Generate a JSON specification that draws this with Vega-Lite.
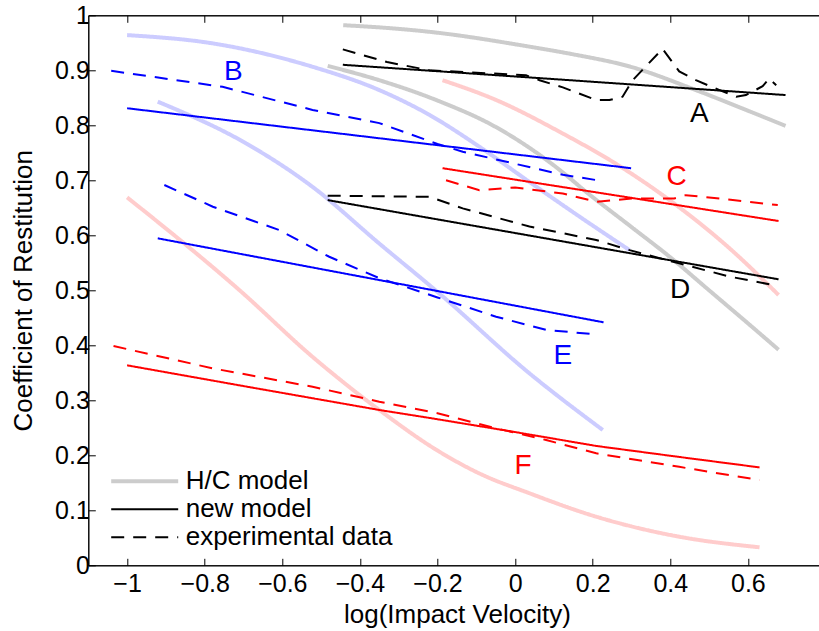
{
  "$schema": "https://vega.github.io/schema/vega-lite/v6.json",
  "width": 737.2,
  "height": 550,
  "autosize": {"type": "none"},
  "padding": {"left": 88.3, "top": 15.3, "right": 0, "bottom": 65.7},
  "background": "white",
  "config": {
    "font": "Liberation Sans",
    "view": {"stroke": "black", "strokeWidth": 1},
    "axis": {
      "domainColor": "black",
      "tickColor": "black",
      "labelColor": "black",
      "titleColor": "black",
      "labelFont": "Liberation Sans",
      "titleFont": "Liberation Sans",
      "labelFontSize": 25,
      "titleFontSize": 26,
      "titleFontWeight": "normal",
      "grid": false,
      "tickSize": -7,
      "tickWidth": 1
    },
    "legend": {
      "labelFont": "Liberation Sans",
      "labelFontSize": 26,
      "labelColor": "black",
      "labelLimit": 400
    }
  },
  "datasets": {
    "curves": [
      {"group": "A", "kind": "H/C model", "x": -0.443, "y": 0.982},
      {"group": "A", "kind": "H/C model", "x": -0.33, "y": 0.977},
      {"group": "A", "kind": "H/C model", "x": -0.221, "y": 0.97},
      {"group": "A", "kind": "H/C model", "x": 0.037, "y": 0.943},
      {"group": "A", "kind": "H/C model", "x": 0.15, "y": 0.929},
      {"group": "A", "kind": "H/C model", "x": 0.295, "y": 0.907},
      {"group": "A", "kind": "H/C model", "x": 0.466, "y": 0.864},
      {"group": "A", "kind": "H/C model", "x": 0.595, "y": 0.828},
      {"group": "A", "kind": "H/C model", "x": 0.697, "y": 0.799},
      {"group": "A", "kind": "new model", "x": -0.444, "y": 0.91},
      {"group": "A", "kind": "new model", "x": 0.1, "y": 0.884},
      {"group": "A", "kind": "new model", "x": 0.697, "y": 0.855},
      {"group": "A", "kind": "experimental data", "x": -0.444, "y": 0.938},
      {"group": "A", "kind": "experimental data", "x": -0.33, "y": 0.915},
      {"group": "A", "kind": "experimental data", "x": -0.221, "y": 0.9},
      {"group": "A", "kind": "experimental data", "x": 0.028, "y": 0.891},
      {"group": "A", "kind": "experimental data", "x": 0.063, "y": 0.882},
      {"group": "A", "kind": "experimental data", "x": 0.123, "y": 0.869},
      {"group": "A", "kind": "experimental data", "x": 0.209, "y": 0.846},
      {"group": "A", "kind": "experimental data", "x": 0.243, "y": 0.846},
      {"group": "A", "kind": "experimental data", "x": 0.277, "y": 0.852},
      {"group": "A", "kind": "experimental data", "x": 0.303, "y": 0.882},
      {"group": "A", "kind": "experimental data", "x": 0.38, "y": 0.939},
      {"group": "A", "kind": "experimental data", "x": 0.423, "y": 0.898},
      {"group": "A", "kind": "experimental data", "x": 0.466, "y": 0.882},
      {"group": "A", "kind": "experimental data", "x": 0.527, "y": 0.864},
      {"group": "A", "kind": "experimental data", "x": 0.57, "y": 0.852},
      {"group": "A", "kind": "experimental data", "x": 0.595, "y": 0.855},
      {"group": "A", "kind": "experimental data", "x": 0.638, "y": 0.871},
      {"group": "A", "kind": "experimental data", "x": 0.655, "y": 0.885},
      {"group": "A", "kind": "experimental data", "x": 0.673, "y": 0.873},

      {"group": "B", "kind": "H/C model", "x": -1.0, "y": 0.964},
      {"group": "B", "kind": "H/C model", "x": -0.78, "y": 0.949},
      {"group": "B", "kind": "H/C model", "x": -0.52, "y": 0.906},
      {"group": "B", "kind": "H/C model", "x": -0.35, "y": 0.864},
      {"group": "B", "kind": "H/C model", "x": -0.221, "y": 0.819},
      {"group": "B", "kind": "H/C model", "x": -0.092, "y": 0.761},
      {"group": "B", "kind": "H/C model", "x": 0.037, "y": 0.697},
      {"group": "B", "kind": "H/C model", "x": 0.166, "y": 0.634},
      {"group": "B", "kind": "H/C model", "x": 0.295, "y": 0.573},
      {"group": "B", "kind": "new model", "x": -1.0, "y": 0.831},
      {"group": "B", "kind": "new model", "x": 0.299, "y": 0.722},
      {"group": "B", "kind": "experimental data", "x": -1.041, "y": 0.899},
      {"group": "B", "kind": "experimental data", "x": -0.754, "y": 0.87},
      {"group": "B", "kind": "experimental data", "x": -0.522, "y": 0.828},
      {"group": "B", "kind": "experimental data", "x": -0.35, "y": 0.804},
      {"group": "B", "kind": "experimental data", "x": -0.2, "y": 0.766},
      {"group": "B", "kind": "experimental data", "x": -0.135, "y": 0.752},
      {"group": "B", "kind": "experimental data", "x": -0.006, "y": 0.731},
      {"group": "B", "kind": "experimental data", "x": 0.123, "y": 0.71},
      {"group": "B", "kind": "experimental data", "x": 0.222, "y": 0.699},

      {"group": "C", "kind": "H/C model", "x": -0.187, "y": 0.882},
      {"group": "C", "kind": "H/C model", "x": -0.049, "y": 0.846},
      {"group": "C", "kind": "H/C model", "x": 0.123, "y": 0.785},
      {"group": "C", "kind": "H/C model", "x": 0.26, "y": 0.73},
      {"group": "C", "kind": "H/C model", "x": 0.398, "y": 0.664},
      {"group": "C", "kind": "H/C model", "x": 0.55, "y": 0.578},
      {"group": "C", "kind": "H/C model", "x": 0.679, "y": 0.4915},
      {"group": "C", "kind": "new model", "x": -0.187, "y": 0.722},
      {"group": "C", "kind": "new model", "x": 0.679, "y": 0.626},
      {"group": "C", "kind": "experimental data", "x": -0.178, "y": 0.7},
      {"group": "C", "kind": "experimental data", "x": -0.092, "y": 0.682},
      {"group": "C", "kind": "experimental data", "x": 0.0, "y": 0.687},
      {"group": "C", "kind": "experimental data", "x": 0.123, "y": 0.676},
      {"group": "C", "kind": "experimental data", "x": 0.21, "y": 0.661},
      {"group": "C", "kind": "experimental data", "x": 0.3, "y": 0.667},
      {"group": "C", "kind": "experimental data", "x": 0.41, "y": 0.667},
      {"group": "C", "kind": "experimental data", "x": 0.44, "y": 0.673},
      {"group": "C", "kind": "experimental data", "x": 0.55, "y": 0.665},
      {"group": "C", "kind": "experimental data", "x": 0.677, "y": 0.655},

      {"group": "D", "kind": "H/C model", "x": -0.483, "y": 0.908},
      {"group": "D", "kind": "H/C model", "x": -0.35, "y": 0.882},
      {"group": "D", "kind": "H/C model", "x": -0.2, "y": 0.845},
      {"group": "D", "kind": "H/C model", "x": -0.05, "y": 0.797},
      {"group": "D", "kind": "H/C model", "x": 0.12, "y": 0.716},
      {"group": "D", "kind": "H/C model", "x": 0.183, "y": 0.679},
      {"group": "D", "kind": "H/C model", "x": 0.3, "y": 0.615},
      {"group": "D", "kind": "H/C model", "x": 0.4, "y": 0.56},
      {"group": "D", "kind": "H/C model", "x": 0.5, "y": 0.5},
      {"group": "D", "kind": "H/C model", "x": 0.6, "y": 0.44},
      {"group": "D", "kind": "H/C model", "x": 0.679, "y": 0.392},
      {"group": "D", "kind": "new model", "x": -0.483, "y": 0.664},
      {"group": "D", "kind": "new model", "x": 0.679, "y": 0.52},
      {"group": "D", "kind": "experimental data", "x": -0.483, "y": 0.672},
      {"group": "D", "kind": "experimental data", "x": -0.221, "y": 0.67},
      {"group": "D", "kind": "experimental data", "x": -0.135, "y": 0.649},
      {"group": "D", "kind": "experimental data", "x": 0.037, "y": 0.616},
      {"group": "D", "kind": "experimental data", "x": 0.209, "y": 0.5915},
      {"group": "D", "kind": "experimental data", "x": 0.295, "y": 0.573},
      {"group": "D", "kind": "experimental data", "x": 0.423, "y": 0.549},
      {"group": "D", "kind": "experimental data", "x": 0.552, "y": 0.525},
      {"group": "D", "kind": "experimental data", "x": 0.677, "y": 0.508},

      {"group": "E", "kind": "H/C model", "x": -0.921, "y": 0.843},
      {"group": "E", "kind": "H/C model", "x": -0.693, "y": 0.767},
      {"group": "E", "kind": "H/C model", "x": -0.522, "y": 0.688},
      {"group": "E", "kind": "H/C model", "x": -0.35, "y": 0.585},
      {"group": "E", "kind": "H/C model", "x": -0.2, "y": 0.497},
      {"group": "E", "kind": "H/C model", "x": 0.037, "y": 0.349},
      {"group": "E", "kind": "H/C model", "x": 0.226, "y": 0.246},
      {"group": "E", "kind": "new model", "x": -0.921, "y": 0.5945},
      {"group": "E", "kind": "new model", "x": 0.228, "y": 0.4418},
      {"group": "E", "kind": "experimental data", "x": -0.904, "y": 0.6915},
      {"group": "E", "kind": "experimental data", "x": -0.779, "y": 0.652},
      {"group": "E", "kind": "experimental data", "x": -0.608, "y": 0.6096},
      {"group": "E", "kind": "experimental data", "x": -0.479, "y": 0.561},
      {"group": "E", "kind": "experimental data", "x": -0.35, "y": 0.522},
      {"group": "E", "kind": "experimental data", "x": -0.2, "y": 0.487},
      {"group": "E", "kind": "experimental data", "x": -0.049, "y": 0.452},
      {"group": "E", "kind": "experimental data", "x": 0.08, "y": 0.428},
      {"group": "E", "kind": "experimental data", "x": 0.204, "y": 0.42},

      {"group": "F", "kind": "H/C model", "x": -1.0, "y": 0.669},
      {"group": "F", "kind": "H/C model", "x": -0.71, "y": 0.5},
      {"group": "F", "kind": "H/C model", "x": -0.522, "y": 0.379},
      {"group": "F", "kind": "H/C model", "x": -0.35, "y": 0.2824},
      {"group": "F", "kind": "H/C model", "x": -0.195, "y": 0.2065},
      {"group": "F", "kind": "H/C model", "x": -0.092, "y": 0.167},
      {"group": "F", "kind": "H/C model", "x": 0.037, "y": 0.131},
      {"group": "F", "kind": "H/C model", "x": 0.209, "y": 0.0884},
      {"group": "F", "kind": "H/C model", "x": 0.423, "y": 0.052},
      {"group": "F", "kind": "H/C model", "x": 0.63, "y": 0.0327},
      {"group": "F", "kind": "new model", "x": -1.0, "y": 0.3636},
      {"group": "F", "kind": "new model", "x": -0.693, "y": 0.325},
      {"group": "F", "kind": "new model", "x": -0.35, "y": 0.2824},
      {"group": "F", "kind": "new model", "x": -0.221, "y": 0.268},
      {"group": "F", "kind": "new model", "x": -0.006, "y": 0.243},
      {"group": "F", "kind": "new model", "x": 0.209, "y": 0.217},
      {"group": "F", "kind": "new model", "x": 0.423, "y": 0.197},
      {"group": "F", "kind": "new model", "x": 0.63, "y": 0.178},
      {"group": "F", "kind": "experimental data", "x": -1.035, "y": 0.3987},
      {"group": "F", "kind": "experimental data", "x": -0.779, "y": 0.358},
      {"group": "F", "kind": "experimental data", "x": -0.522, "y": 0.3247},
      {"group": "F", "kind": "experimental data", "x": -0.35, "y": 0.2975},
      {"group": "F", "kind": "experimental data", "x": -0.2, "y": 0.2764},
      {"group": "F", "kind": "experimental data", "x": -0.049, "y": 0.249},
      {"group": "F", "kind": "experimental data", "x": 0.08, "y": 0.2278},
      {"group": "F", "kind": "experimental data", "x": 0.209, "y": 0.2036},
      {"group": "F", "kind": "experimental data", "x": 0.423, "y": 0.179},
      {"group": "F", "kind": "experimental data", "x": 0.63, "y": 0.155}
    ],
    "labels": [
      {"group": "A", "x": 0.475, "y": 0.8205},
      {"group": "B", "x": -0.726, "y": 0.8975},
      {"group": "C", "x": 0.416, "y": 0.7065},
      {"group": "D", "x": 0.425, "y": 0.5},
      {"group": "E", "x": 0.123, "y": 0.381},
      {"group": "F", "x": 0.0206, "y": 0.181}
    ]
  },
  "layer": [
    {
      "data": {"name": "curves"},
      "transform": [{"filter": "datum.kind === 'H/C model'"}],
      "mark": {"type": "line", "strokeWidth": 4, "interpolate": "monotone", "clip": true},
      "encoding": {
        "x": {
          "field": "x", "type": "quantitative",
          "scale": {"domain": [-1.1, 0.8], "nice": false, "zero": false},
          "axis": {
            "title": "log(Impact Velocity)",
            "values": [-1, -0.8, -0.6, -0.4, -0.2, 0, 0.2, 0.4, 0.6],
            "format": "~g",
            "labelPadding": 13,
            "titlePadding": 5
          }
        },
        "y": {
          "field": "y", "type": "quantitative",
          "scale": {"domain": [0, 1], "nice": false, "zero": false},
          "axis": {
            "title": "Coefficient of Restitution",
            "values": [0, 0.1, 0.2, 0.3, 0.4, 0.5, 0.6, 0.7, 0.8, 0.9, 1],
            "format": "~g",
            "labelPadding": 6,
            "titlePadding": 18
          }
        },
        "detail": {"field": "group"},
        "color": {
          "field": "group", "type": "nominal",
          "scale": {
            "domain": ["A", "B", "C", "D", "E", "F"],
            "range": ["#cccccc", "#ccccff", "#ffcccc", "#cccccc", "#ccccff", "#ffcccc"]
          },
          "legend": null
        },
        "strokeDash": {
          "field": "kind", "type": "nominal",
          "scale": {
            "domain": ["H/C model", "new model", "experimental data"],
            "range": [[1, 0], [1, 0], [13, 9]]
          },
          "legend": {
            "title": null,
            "orient": "none",
            "legendX": 43.4,
            "legendY": 453,
            "padding": 0,
            "symbolType": "stroke",
            "symbolSize": 4489,
            "symbolStrokeWidth": 2,
            "labelOffset": 28,
            "rowPadding": 2,
            "encode": {
              "symbols": {
                "update": {
                  "stroke": {"signal": "datum.value === 'H/C model' ? '#cccccc' : 'black'"},
                  "strokeWidth": {"signal": "datum.value === 'H/C model' ? 4 : 2"}
                }
              }
            }
          }
        }
      }
    },
    {
      "data": {"name": "curves"},
      "transform": [{"filter": "datum.kind !== 'H/C model'"}],
      "mark": {"type": "line", "strokeWidth": 2, "clip": true},
      "encoding": {
        "x": {"field": "x", "type": "quantitative", "axis": null},
        "y": {"field": "y", "type": "quantitative"},
        "color": {
          "field": "group", "type": "nominal",
          "scale": {
            "domain": ["A", "B", "C", "D", "E", "F"],
            "range": ["#000000", "#0000ff", "#ff0000", "#000000", "#0000ff", "#ff0000"]
          },
          "legend": null
        },
        "strokeDash": {"field": "kind", "type": "nominal"}
      }
    },
    {
      "data": {"name": "labels"},
      "mark": {"type": "text", "fontSize": 28, "align": "center", "baseline": "middle", "font": "Liberation Sans"},
      "encoding": {
        "x": {
          "field": "x", "type": "quantitative",
          "axis": {
            "orient": "top",
            "title": null,
            "labels": false,
            "values": [-1, -0.8, -0.6, -0.4, -0.2, 0, 0.2, 0.4, 0.6]
          }
        },
        "y": {"field": "y", "type": "quantitative"},
        "text": {"field": "group"},
        "color": {
          "field": "group", "type": "nominal",
          "scale": {
            "domain": ["A", "B", "C", "D", "E", "F"],
            "range": ["#000000", "#0000ff", "#ff0000", "#000000", "#0000ff", "#ff0000"]
          },
          "legend": null
        }
      }
    }
  ],
  "resolve": {"scale": {"color": "independent"}, "axis": {"x": "independent"}}
}
